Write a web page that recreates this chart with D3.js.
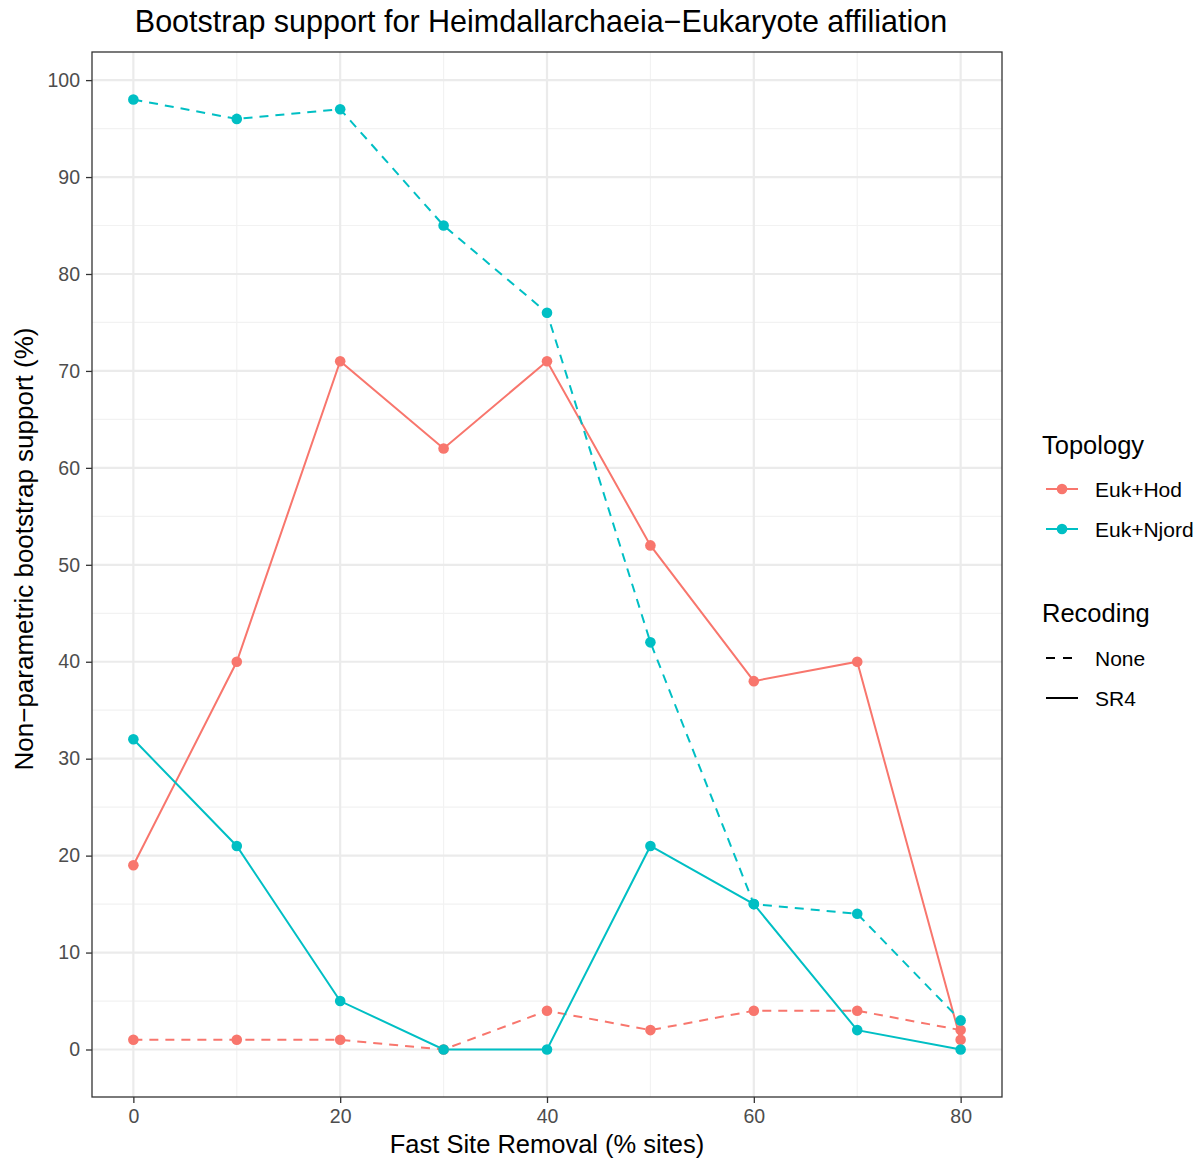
<!DOCTYPE html>
<html>
<head>
<meta charset="utf-8">
<script src="https://cdn.jsdelivr.net/npm/d3@7"></script>
<style>
  body { margin: 0; background: #fff; }
  svg { font-family: "Liberation Sans", Arial, Helvetica, sans-serif; }
</style>
</head>
<body>
<svg id="chart" width="1204" height="1162"></svg>
<script>
// Fast-site removal levels (% of sites removed)
const removal = [0, 10, 20, 30, 40, 50, 60, 70, 80];

// Bootstrap support per topology and recoding scheme
const hodNone   = [1, 1, 1, 0, 4, 2, 4, 4, 2];
const hodSR4    = [19, 40, 71, 62, 71, 52, 38, 40, 1];
const njordNone = [98, 96, 97, 85, 76, 42, 15, 14, 3];
const njordSR4  = [32, 21, 5, 0, 0, 21, 15, 2, 0];

const topologies = ["Euk+Hod", "Euk+Njord"];
const recodings = ["None", "SR4"];
const xTicks = [0, 20, 40, 60, 80];
const yTicks = [0, 10, 20, 30, 40, 50, 60, 70, 80, 90, 100];

const series = [
  { topology: "Euk+Hod", recoding: "None", values: hodNone },
  { topology: "Euk+Hod", recoding: "SR4", values: hodSR4 },
  { topology: "Euk+Njord", recoding: "None", values: njordNone },
  { topology: "Euk+Njord", recoding: "SR4", values: njordSR4 }
];

const color = d3.scaleOrdinal().domain(topologies).range(["#F8766D", "#00BFC4"]);
const dash = d3.scaleOrdinal().domain(recodings).range(["9,7", null]);

const svg = d3.select("#chart");
const panel = { left: 92, right: 1002, top: 52, bottom: 1097 };

// ggplot-style 5% expansion of the data range
const xExt = d3.extent(removal), xPad = (xExt[1] - xExt[0]) * 0.05;
const allY = [].concat(hodNone, hodSR4, njordNone, njordSR4);
const yExt = d3.extent(allY), yPad = (yExt[1] - yExt[0]) * 0.05;

const x = d3.scaleLinear().domain([xExt[0] - xPad, xExt[1] + xPad]).range([panel.left, panel.right]);
const y = d3.scaleLinear().domain([yExt[0] - yPad, yExt[1] + yPad]).range([panel.bottom, panel.top]);

const g = svg.append("g");

// minor grid
const xMinor = d3.range(10, 80, 20);
const yMinor = d3.range(5, 101, 10);
g.selectAll(".xminor").data(xMinor).join("line")
  .attr("x1", d => x(d)).attr("x2", d => x(d))
  .attr("y1", panel.top).attr("y2", panel.bottom)
  .attr("stroke", "#F2F2F2").attr("stroke-width", 1.2);
g.selectAll(".yminor").data(yMinor).join("line")
  .attr("x1", panel.left).attr("x2", panel.right)
  .attr("y1", d => y(d)).attr("y2", d => y(d))
  .attr("stroke", "#F2F2F2").attr("stroke-width", 1.2);
// major grid
g.selectAll(".xmajor").data(xTicks).join("line")
  .attr("x1", d => x(d)).attr("x2", d => x(d))
  .attr("y1", panel.top).attr("y2", panel.bottom)
  .attr("stroke", "#EBEBEB").attr("stroke-width", 2.2);
g.selectAll(".ymajor").data(yTicks).join("line")
  .attr("x1", panel.left).attr("x2", panel.right)
  .attr("y1", d => y(d)).attr("y2", d => y(d))
  .attr("stroke", "#EBEBEB").attr("stroke-width", 2.2);

// lines
const line = d3.line().x((d, i) => x(removal[i])).y(d => y(d));
g.selectAll(".series").data(series).join("path")
  .attr("d", d => line(d.values))
  .attr("fill", "none")
  .attr("stroke", d => color(d.topology))
  .attr("stroke-width", 2)
  .attr("stroke-dasharray", d => dash(d.recoding));

// points
series.forEach(s => {
  g.selectAll(null).data(s.values).join("circle")
    .attr("cx", (d, i) => x(removal[i]))
    .attr("cy", d => y(d))
    .attr("r", 5.3)
    .attr("fill", color(s.topology));
});

// panel border
svg.append("rect")
  .attr("x", panel.left).attr("y", panel.top)
  .attr("width", panel.right - panel.left).attr("height", panel.bottom - panel.top)
  .attr("fill", "none").attr("stroke", "#333333").attr("stroke-width", 1.3);

// axes
const xAxis = svg.append("g").attr("transform", `translate(0,${panel.bottom})`)
  .call(d3.axisBottom(x).tickValues(xTicks).tickSize(6).tickPadding(6));
const yAxis = svg.append("g").attr("transform", `translate(${panel.left},0)`)
  .call(d3.axisLeft(y).tickValues(yTicks).tickSize(6).tickPadding(6));
[xAxis, yAxis].forEach(a => {
  a.select(".domain").remove();
  a.selectAll(".tick line").attr("stroke", "#333333").attr("stroke-width", 1.3);
  a.selectAll(".tick text").attr("fill", "#4D4D4D").attr("font-size", 19.5)
    .attr("font-family", "'Liberation Sans', Arial, sans-serif");
});

// titles
svg.append("text").attr("x", 541).attr("y", 32).attr("text-anchor", "middle")
  .attr("font-size", 30.5).attr("fill", "#000")
  .text("Bootstrap support for Heimdallarchaeia\u2212Eukaryote affiliation");
svg.append("text").attr("x", (panel.left + panel.right) / 2).attr("y", 1153).attr("text-anchor", "middle")
  .attr("font-size", 25.5).attr("fill", "#000").text("Fast Site Removal (% sites)");
svg.append("text").attr("transform", "translate(33,549) rotate(-90)")
  .attr("text-anchor", "middle").attr("font-size", 26).attr("fill", "#000")
  .text("Non\u2212parametric bootstrap support (%)");

// legends
const leg = svg.append("g");
leg.append("text").attr("x", 1042).attr("y", 454).attr("font-size", 25.5).text("Topology");
topologies.forEach((t, i) => {
  const yy = 489 + i * 40;
  leg.append("line").attr("x1", 1046).attr("x2", 1078).attr("y1", yy).attr("y2", yy)
    .attr("stroke", color(t)).attr("stroke-width", 2);
  leg.append("circle").attr("cx", 1062).attr("cy", yy).attr("r", 5.3).attr("fill", color(t));
  leg.append("text").attr("x", 1095).attr("y", yy + 7.5).attr("font-size", 21).text(t);
});
leg.append("text").attr("x", 1042).attr("y", 622).attr("font-size", 25.5).text("Recoding");
recodings.forEach((r, i) => {
  const yy = 658 + i * 40;
  leg.append("line").attr("x1", 1046).attr("x2", 1078).attr("y1", yy).attr("y2", yy)
    .attr("stroke", "#000").attr("stroke-width", 2)
    .attr("stroke-dasharray", r === "None" ? "9,8" : null);
  leg.append("text").attr("x", 1095).attr("y", yy + 7.5).attr("font-size", 21).text(r);
});
</script>
</body>
</html>
